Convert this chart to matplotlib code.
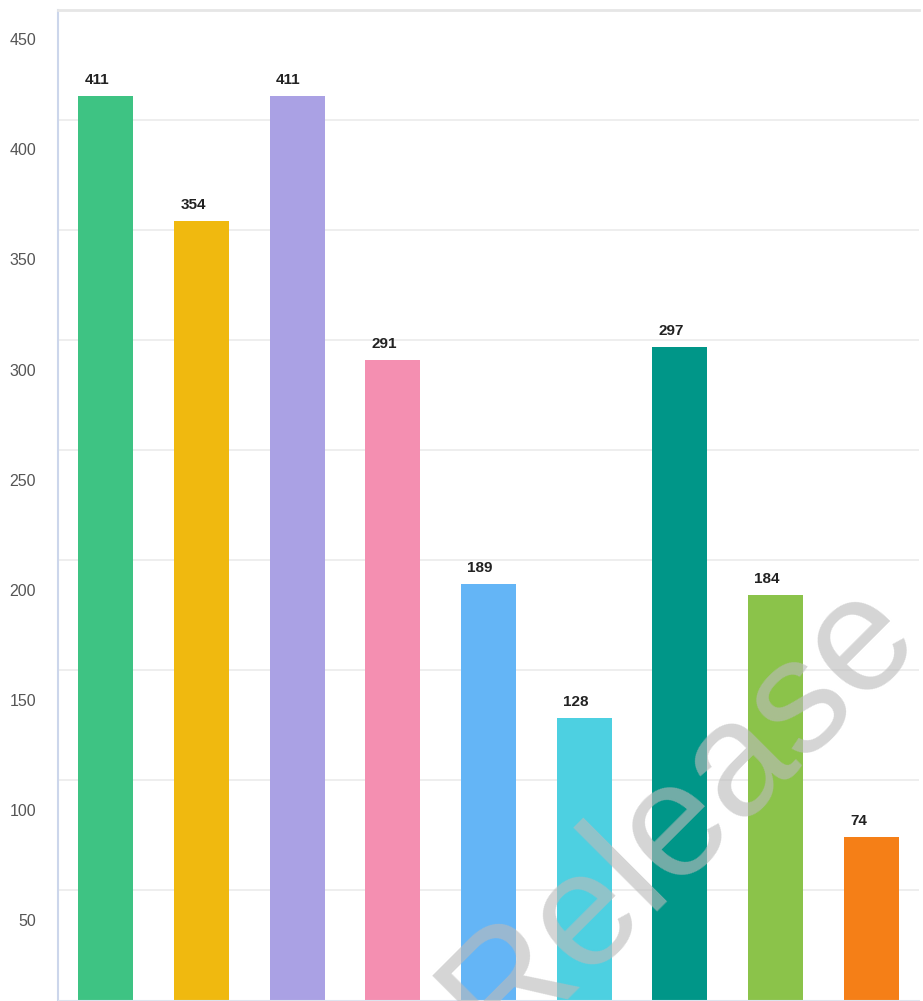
import matplotlib.pyplot as plt
import matplotlib.transforms as mtransforms

plt.rcParams["font.family"] = ["Liberation Sans", "DejaVu Sans"]

values = [411, 354, 411, 291, 189, 128, 297, 184, 74]
colors = ["#3ec383", "#f0b90f", "#aaa1e4", "#f48fb1", "#64b5f6",
          "#4dd0e1", "#009688", "#8bc34a", "#f57f17"]
yticks = [50, 100, 150, 200, 250, 300, 350, 400, 450]

fig = plt.figure(figsize=(9.23, 10.01), dpi=100)
ax = fig.add_axes([58 / 923, 1 / 1001, 861 / 923, 990 / 1001])

x = list(range(len(values)))
width = 0.575
ax.bar(x, values, width=width, color=colors, zorder=2)

for i, v in enumerate(values):
    ax.annotate(str(v), (i - width / 2, v), xytext=(4.5, 8.6),
                textcoords="offset points", ha="left", va="baseline",
                fontsize=11, fontweight="bold", color="#222222")

ax.set_xlim(-0.5, len(values) - 0.5)
ax.set_ylim(0, 450)
ax.set_yticks(yticks)
ax.yaxis.grid(True, color="#ebebeb", linewidth=1.2, zorder=0)
ax.set_axisbelow(True)
ax.tick_params(axis="y", length=0, labelleft=False)
ax.tick_params(axis="x", length=0, labelbottom=False)

ax.spines["right"].set_visible(False)
ax.spines["top"].set_color("#e6e6e6")
ax.spines["top"].set_linewidth(2)
ax.spines["left"].set_color("#ccd6eb")
ax.spines["left"].set_linewidth(1.5)
ax.spines["bottom"].set_color("#dde3ee")

# tick labels sit a bit below their gridlines in the original
shift = mtransforms.ScaledTranslation(0, -0.31, fig.dpi_scale_trans)
trans = mtransforms.blended_transform_factory(ax.transAxes, ax.transData) + shift
for t in yticks:
    ax.text(-0.0256, t, str(t), transform=trans, ha="right", va="center",
            fontsize=11.5, color="#555555")

fig.text(499 / 923, 1 - 1056 / 1001, "Release", rotation=45,
         rotation_mode="anchor", ha="left", va="baseline",
         fontsize=117, color="#bbbbbb", alpha=0.62, zorder=5)

fig.savefig("out.png", dpi=100)
